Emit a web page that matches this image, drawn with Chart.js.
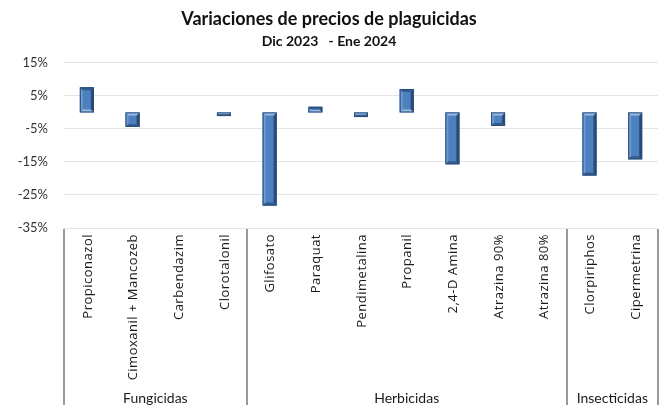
<!DOCTYPE html>
<html>
<head>
<meta charset="utf-8">
<script src="https://cdn.jsdelivr.net/npm/chart.js@4"></script>
<style>
    body { margin: 0; background: #fff; }
    #wrap { width: 661px; height: 405px; position: relative; }
</style>
</head>
<body>
<div id="wrap"><canvas id="grafico"></canvas></div>
<script>
// Datos
const productos = ['Propiconazol', 'Cimoxanil + Mancozeb', 'Carbendazim', 'Clorotalonil',
    'Glifosato', 'Paraquat', 'Pendimetalina', 'Propanil', '2,4-D Amina', 'Atrazina 90%',
    'Atrazina 80%', 'Clorpiriphos', 'Cipermetrina'];
const variacion = [7.6, -4.4, 0, -1.1, -28.2, 1.7, -1.4, 7.1, -15.7, -4.1, 0, -19.1, -14.2];
const grupos = ['Fungicidas', 'Herbicidas', 'Insecticidas'];
const tamGrupos = [4, 7, 2];
const ticksY = [-35, -25, -15, -5, 5, 15];

const fuente = 'Lato, Calibri, sans-serif';
const fuenteEtiquetas = '13px "Open Sans", sans-serif';

// Efecto de bisel en las barras
const biselPlugin = {
    id: 'bisel',
    afterDatasetsDraw(chart) {
        const ctx = chart.ctx;
        chart.getDatasetMeta(0).data.forEach(bar => {
            const w = bar.width;
            const l = bar.x - w / 2, r = bar.x + w / 2;
            const y0 = bar.base, y1 = bar.y;
            if (Math.abs(y1 - y0) < 1) return;
            const top = Math.min(y0, y1), bot = Math.max(y0, y1);
            const b = Math.min(3, (bot - top) / 2);
            ctx.save();
            // cara
            ctx.fillStyle = '#4c80bf';
            ctx.fillRect(l, top, w, bot - top);
            // lado izquierdo claro
            ctx.fillStyle = '#6d9ad0';
            ctx.beginPath();
            ctx.moveTo(l, top); ctx.lineTo(l + b, top + b); ctx.lineTo(l + b, bot - b); ctx.lineTo(l, bot);
            ctx.fill();
            // lado derecho oscuro
            ctx.fillStyle = '#2a4b75';
            ctx.beginPath();
            ctx.moveTo(r, top); ctx.lineTo(r - b, top + b); ctx.lineTo(r - b, bot - b); ctx.lineTo(r, bot);
            ctx.fill();
            // extremo cerca del cero claro, extremo lejano oscuro
            const cerca = y1 > y0 ? top : bot;
            const lejos = y1 > y0 ? bot : top;
            const dn = cerca === top ? b : -b;
            const df = lejos === top ? b : -b;
            ctx.fillStyle = '#9bbde6';
            ctx.beginPath();
            ctx.moveTo(l, cerca); ctx.lineTo(r, cerca); ctx.lineTo(r - b, cerca + dn); ctx.lineTo(l + b, cerca + dn);
            ctx.fill();
            ctx.fillStyle = '#335d90';
            ctx.beginPath();
            ctx.moveTo(l, lejos); ctx.lineTo(r, lejos); ctx.lineTo(r - b, lejos + df); ctx.lineTo(l + b, lejos + df);
            ctx.fill();
            ctx.strokeStyle = '#2a4c78';
            ctx.lineWidth = 1;
            ctx.strokeRect(l + 0.5, top + 0.5, w - 1, bot - top - 1);
            ctx.restore();
        });
    }
};

// Etiquetas verticales, separadores y nombres de grupo bajo el eje X
const gruposPlugin = {
    id: 'grupos',
    afterDraw(chart) {
        const ctx = chart.ctx;
        const xs = chart.scales.x;
        const area = chart.chartArea;
        const paso = xs.getPixelForValue(1) - xs.getPixelForValue(0);
        ctx.save();

        ctx.fillStyle = '#1a1a1a';
        ctx.font = fuenteEtiquetas;
        ctx.letterSpacing = '0.5px';
        ctx.textAlign = 'right';
        ctx.textBaseline = 'middle';
        productos.forEach((p, i) => {
            ctx.save();
            ctx.translate(xs.getPixelForValue(i) + 1, area.bottom + 6);
            ctx.rotate(-Math.PI / 2);
            ctx.fillText(p, 0, 0);
            ctx.restore();
        });
        ctx.letterSpacing = '0px';

        ctx.strokeStyle = '#9a9a9a';
        ctx.lineWidth = 2;
        let inicio = 0;
        const bordes = [xs.getPixelForValue(0) - paso / 2];
        ctx.font = '14px ' + fuente;
        ctx.textAlign = 'center';
        tamGrupos.forEach((n, i) => {
            const x0 = xs.getPixelForValue(inicio) - paso / 2;
            const x1 = xs.getPixelForValue(inicio + n - 1) + paso / 2;
            bordes.push(x1);
            ctx.fillText(grupos[i], (x0 + x1) / 2, chart.height - 7);
            inicio += n;
        });
        bordes.forEach(x => {
            ctx.beginPath();
            ctx.moveTo(Math.round(x), area.bottom + 1);
            ctx.lineTo(Math.round(x), chart.height);
            ctx.stroke();
        });
        ctx.restore();
    }
};

const ctx = document.getElementById('grafico').getContext('2d');
new Chart(ctx, {
    type: 'bar',
    data: {
        labels: productos,
        datasets: [{
            data: variacion,
            backgroundColor: 'rgba(0,0,0,0)',
            borderWidth: 0,
            barThickness: 14
        }]
    },
    options: {
        responsive: true,
        maintainAspectRatio: false,
        animation: false,
        layout: { padding: { top: 4, right: 3, left: 0, bottom: 0 } },
        plugins: {
            legend: { display: false },
            tooltip: { enabled: false },
            title: {
                display: true,
                text: 'Variaciones de precios de plaguicidas',
                color: '#111',
                font: { family: fuente, size: 18, weight: 'bold' },
                padding: { top: 4, bottom: 2 }
            },
            subtitle: {
                display: true,
                text: 'Dic 2023   - Ene 2024',
                color: '#111',
                font: { family: fuente, size: 14, weight: 'bold' },
                padding: { top: 1, bottom: 13.5 }
            }
        },
        scales: {
            x: {
                grid: { display: false },
                border: { display: false },
                ticks: { display: false },
                afterFit(scale) { scale.height = 177; }
            },
            y: {
                min: -35,
                max: 15,
                afterBuildTicks(scale) { scale.ticks = ticksY.map(v => ({ value: v })); },
                border: { display: false },
                grid: {
                    drawTicks: false,
                    color: c => c.tick && c.tick.value === 0 ? '#8a8a8a' : '#e4e4e4',
                    lineWidth: c => c.tick && c.tick.value === 0 ? 2 : 1
                },
                ticks: {
                    padding: 16,
                    color: '#333',
                    font: { family: fuente, size: 13 },
                    callback: v => v + '%'
                },
                afterFit(scale) { scale.width = 64; }
            }
        }
    },
    plugins: [biselPlugin, gruposPlugin]
});
</script>
</body>
</html>
